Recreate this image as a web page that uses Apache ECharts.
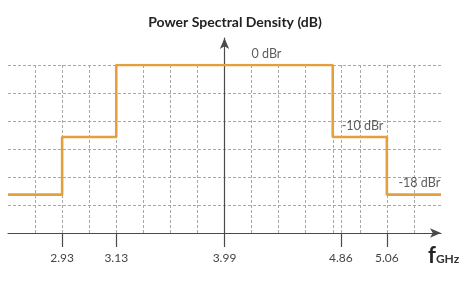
<!DOCTYPE html>
<html>
<head>
<meta charset="utf-8">
<script src="https://cdn.jsdelivr.net/npm/echarts@6/dist/echarts.min.js"></script>
<style>html,body{margin:0;padding:0;background:#fff}#c{width:470px;height:284px}</style>
</head>
<body>
<div id="c"></div>
<script>
// Schematic (not-to-scale) frequency positions, in grid units around the 3.99 GHz centre
const freqLabels = ['2.93', '3.13', '3.99', '4.86', '5.06'];
const freqPos = [-6, -4, 0, 4.3, 6];
// Step mask: edges (grid units) and level (dBr) holding until the next edge
const edgePos = [-8, -6, -4, 4, 6, 8];
const levels = [-18, -10, 0, -10, -18, -18];
// Level annotations
const levelText = ['0 dBr', '-10 dBr', '-18 dBr'];
const levelTextPos = [1.55, 5.1, 7.2];
const levelTextVal = [0, -10, -18];

const chart = echarts.init(document.getElementById('c'), null, {renderer: 'canvas'});
const FONT = 'Lato';
const gridStyle = {color: '#a8a8a8', type: [3, 2], width: 1};
const common = {left: 8, right: 29, bottom: 51};

chart.setOption({
  animation: false,
  backgroundColor: '#fff',
  title: [
    {text: 'Power Spectral Density (dB)', left: 'center', top: 10,
     textStyle: {fontFamily: FONT, fontSize: 14, fontWeight: 'bold', color: '#222'}},
    {text: '{f|f}{g|GHz}', left: 423, top: 240,
     textStyle: {rich: {
       f: {fontFamily: FONT, fontSize: 22, color: '#222', verticalAlign: 'bottom'},
       g: {fontFamily: FONT, fontSize: 12, color: '#333', verticalAlign: 'bottom', padding: [0, 0, 2, 0]}
     }}}
  ],
  grid: [
    Object.assign({top: 38}, common),
    Object.assign({top: 65}, common)
  ],
  xAxis: [
    {gridIndex: 0, type: 'value', min: -8, max: 8,
     axisLine: {onZero: false, lineStyle: {color: '#4a4a4a', width: 1.2}, symbol: ['none', 'arrow'], symbolSize: [7, 11], symbolOffset: [0, 0]},
     axisTick: {show: true, customValues: freqPos, length: 14, lineStyle: {color: '#4a4a4a', width: 1.2}},
     axisLabel: {show: true, customValues: freqPos, margin: 19, color: '#444', fontFamily: FONT, fontSize: 12,
       formatter: v => { const i = freqPos.indexOf(v); return i >= 0 ? freqLabels[i] : ''; }},
     splitLine: {show: false}},
    {gridIndex: 1, type: 'value', min: -8, max: 8, interval: 1,
     axisLine: {show: false}, axisTick: {show: false}, axisLabel: {show: false},
     splitLine: {show: true, showMinLine: false, showMaxLine: false, lineStyle: gridStyle}}
  ],
  yAxis: [
    {gridIndex: 0, type: 'value', min: 0, max: 1,
     axisLine: {show: true, onZero: true, lineStyle: {color: '#4a4a4a', width: 1.2}, symbol: ['none', 'arrow'], symbolSize: [7, 11]},
     axisTick: {show: false}, axisLabel: {show: false}, splitLine: {show: false}},
    {gridIndex: 1, type: 'value', min: -23.33, max: 0,
     axisLine: {show: false}, axisTick: {show: false}, axisLabel: {show: false}, splitLine: {show: false}},
    {gridIndex: 1, type: 'value', min: -6, max: 0, interval: 1, position: 'right',
     axisLine: {show: false}, axisTick: {show: false}, axisLabel: {show: false},
     splitLine: {show: true, showMinLine: false, showMaxLine: true, lineStyle: gridStyle}}
  ],
  series: [
    {type: 'line', xAxisIndex: 1, yAxisIndex: 1, step: 'end', symbol: 'none', silent: true,
     data: edgePos.map((x, i) => [x, levels[i]]),
     lineStyle: {color: '#E3A03C', width: 2.6}, z: 5,
     markLine: {silent: true, symbol: 'none', label: {show: false},
       lineStyle: gridStyle, data: [{xAxis: freqPos[3]}]}},
    {type: 'scatter', xAxisIndex: 1, yAxisIndex: 1, symbolSize: 0, clip: false, silent: true,
     data: levelTextPos.map((x, i) => ({value: [x, levelTextVal[i]], name: levelText[i]})),
     label: {show: true, position: 'top', distance: 5, formatter: p => p.name,
       fontFamily: FONT, fontSize: 12.5, color: '#333'}, z: 6}
  ]
});
</script>
</body>
</html>
